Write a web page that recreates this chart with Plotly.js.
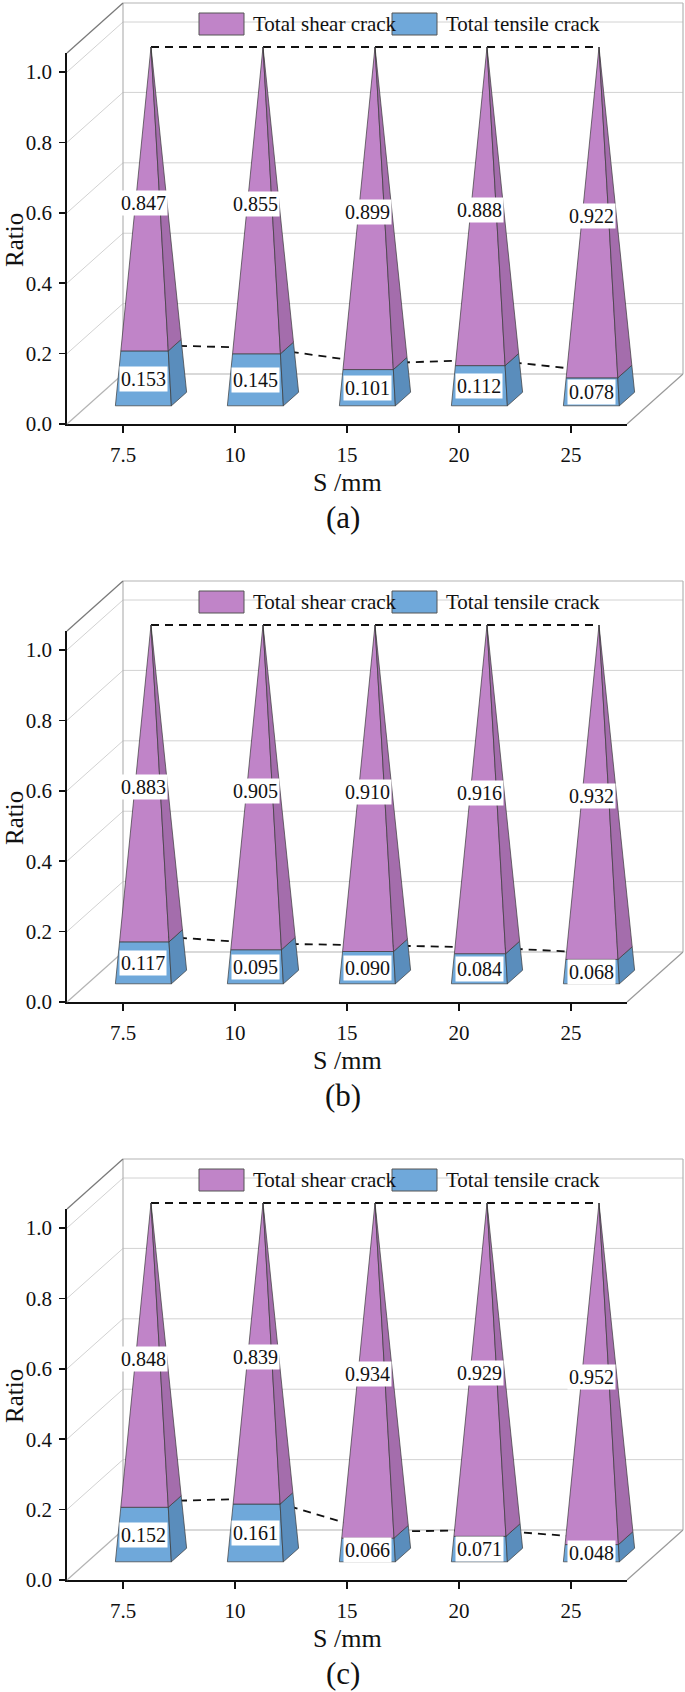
<!DOCTYPE html>
<html>
<head>
<meta charset="utf-8">
<script src="https://cdn.plot.ly/plotly-3.0.1.min.js"></script>
<style>
  html, body { margin: 0; padding: 0; background: #fff; }
  .panel { width: 685px; display: block; }
</style>
</head>
<body>
<div id="panelA" class="panel" style="height:578px"></div>
<div id="panelB" class="panel" style="height:578px"></div>
<div id="panelC" class="panel" style="height:536px"></div>
<script>
var spacing = ['7.5', '10', '15', '20', '25'];
var yTicks = [0, 0.2, 0.4, 0.6, 0.8, 1.0];
var yTickText = ['0.0', '0.2', '0.4', '0.6', '0.8', '1.0'];

var shearA = [0.847, 0.855, 0.899, 0.888, 0.922];
var tensileA = [0.153, 0.145, 0.101, 0.112, 0.078];
var shearB = [0.883, 0.905, 0.910, 0.916, 0.932];
var tensileB = [0.117, 0.095, 0.090, 0.084, 0.068];
var shearC = [0.848, 0.839, 0.934, 0.929, 0.952];
var tensileC = [0.152, 0.161, 0.066, 0.071, 0.048];

var panels = [
    {div: 'panelA', h: 578, shear: shearA, tensile: tensileA, tag: '(a)'},
    {div: 'panelB', h: 578, shear: shearB, tensile: tensileB, tag: '(b)'},
    {div: 'panelC', h: 536, shear: shearC, tensile: tensileC, tag: '(c)'}
];

// projection settings (px inside one panel)
var W = 685;
var X0 = 123, XU = 112;      // px of first category, px per category
var Y0 = 424, YU = 352;      // px of ratio 0, px per 1.0
var DX = 0.5, DY = 0.142;    // depth vector, in axis units
var TOP = (Y0 - 53) / YU;    // top of walls
var W0 = 0.25, E0 = 0.136;   // pyramid half width / half depth at base
var DC = 0.5;                // pyramid centre depth

var FONT = 'Liberation Serif, Times New Roman, serif';
var BLUE = '#6FA8DA', BLUE_SIDE = '#5A8DBC';
var PURPLE = '#C084C8', PURPLE_SIDE = '#A46DAC';
var EDGE = '#3a3a3a';

function toX(px) { return (px - X0) / XU; }
function toY(py) { return (Y0 - py) / YU; }

function pt(i, h, side, dsign) {
    var w = W0 * (1 - h), e = E0 * (1 - h);
    var d = DC + dsign * e;
    return [i + side * w + d * DX, h + d * DY];
}

function face(pts, color) {
    var xs = [], ys = [];
    for (var k = 0; k < pts.length; k++) {
        xs.push(pts[k][0]);
        ys.push(pts[k][1]);
    }
    xs.push(pts[0][0]);
    ys.push(pts[0][1]);
    return {
        x: xs, y: ys, xaxis: 'x2', yaxis: 'y2',
        type: 'scatter', mode: 'lines', fill: 'toself',
        fillcolor: color,
        line: {color: EDGE, width: 0.7},
        hoverinfo: 'skip', showlegend: false
    };
}

function seg(x0, y0, x1, y1, color, width) {
    return {
        type: 'line', xref: 'x2', yref: 'y2',
        x0: x0, y0: y0, x1: x1, y1: y1,
        line: {color: color, width: width}, layer: 'below'
    };
}

function drawPanel(panel) {
    var hp = panel.h;
    var shear = panel.shear, tensile = panel.tensile;
    var data = [];
    var shapes = [];
    var annotations = [];

    // empty trace so the front axes get drawn
    data.push({x: [0], y: [0], xaxis: 'x', yaxis: 'y', type: 'scatter', mode: 'markers',
        marker: {opacity: 0}, hoverinfo: 'skip', showlegend: false});

    // walls: back wall grid and left wall diagonals
    for (var g = 1; g < yTicks.length; g++) {
        var r = yTicks[g];
        shapes.push(seg(0, r + DY, 5, r + DY, '#d2d2d2', 1));
        shapes.push(seg(-0.5, r, 0, r + DY, '#d2d2d2', 1));
    }
    shapes.push(seg(0, DY, 0, TOP + DY, '#b4b4b4', 1.2));
    shapes.push(seg(0, TOP + DY, 5, TOP + DY, '#b4b4b4', 1.2));
    shapes.push(seg(5, DY, 5, TOP + DY, '#b4b4b4', 1.2));
    shapes.push(seg(0, DY, 5, DY, '#b4b4b4', 1.2));
    shapes.push(seg(-0.5, 0, 0, DY, '#b4b4b4', 1.2));
    shapes.push(seg(4.5, 0, 5, DY, '#9a9a9a', 1.2));
    shapes.push(seg(-0.5, TOP, 0, TOP + DY, '#7a7a7a', 1.3));

    // dashed lines behind the pyramids
    var topX = [], topY = [], midX = [], midY = [];
    for (var i = 0; i < shear.length; i++) {
        topX.push(i + DC * DX);
        topY.push(tensile[i] + shear[i] + DC * DY);
        midX.push(i + DC * DX);
        midY.push(tensile[i] + DC * DY);
    }
    data.push({x: topX, y: topY, xaxis: 'x2', yaxis: 'y2', type: 'scatter', mode: 'lines',
        line: {color: '#111', width: 1.8, dash: '8px,6px'}, hoverinfo: 'skip', showlegend: false});
    data.push({x: midX, y: midY, xaxis: 'x2', yaxis: 'y2', type: 'scatter', mode: 'lines',
        line: {color: '#111', width: 1.8, dash: '8px,6px'}, hoverinfo: 'skip', showlegend: false});

    // pyramids
    for (var i = 0; i < shear.length; i++) {
        var t = tensile[i];
        var apexH = t + shear[i];
        var apex = [i + DC * DX, apexH + DC * DY];
        data.push(face([pt(i, 0, -1, -1), pt(i, 0, 1, -1), pt(i, t, 1, -1), pt(i, t, -1, -1)], BLUE));
        data.push(face([pt(i, 0, 1, -1), pt(i, 0, 1, 1), pt(i, t, 1, 1), pt(i, t, 1, -1)], BLUE_SIDE));
        data.push(face([pt(i, t, -1, -1), pt(i, t, 1, -1), apex], PURPLE));
        data.push(face([pt(i, t, 1, -1), pt(i, t, 1, 1), apex], PURPLE_SIDE));

        var dFront = DC - E0;
        annotations.push({
            xref: 'x2', yref: 'y2', x: i + dFront * DX, y: t + shear[i] / 2 + dFront * DY,
            text: shear[i].toFixed(3), showarrow: false,
            bgcolor: '#fff', borderpad: 1,
            font: {family: FONT, size: 20, color: '#111'}
        });
        annotations.push({
            xref: 'x2', yref: 'y2', x: i + dFront * DX, y: t / 2 + dFront * DY,
            text: tensile[i].toFixed(3), showarrow: false,
            bgcolor: '#fff', borderpad: 1,
            font: {family: FONT, size: 20, color: '#111'}
        });
    }

    // legend
    shapes.push({type: 'rect', xref: 'x2', yref: 'y2', x0: toX(199), x1: toX(244), y0: toY(35), y1: toY(13),
        fillcolor: PURPLE, line: {color: '#555', width: 1}, layer: 'above'});
    shapes.push({type: 'rect', xref: 'x2', yref: 'y2', x0: toX(392), x1: toX(437), y0: toY(35), y1: toY(13),
        fillcolor: BLUE, line: {color: '#555', width: 1}, layer: 'above'});
    annotations.push({xref: 'x2', yref: 'y2', x: toX(251), y: toY(24), xanchor: 'left', text: 'Total shear crack',
        showarrow: false, font: {family: FONT, size: 21, color: '#111'}});
    annotations.push({xref: 'x2', yref: 'y2', x: toX(444), y: toY(24), xanchor: 'left', text: 'Total tensile crack',
        showarrow: false, font: {family: FONT, size: 21, color: '#111'}});

    // titles
    annotations.push({xref: 'x2', yref: 'y2', x: toX(14), y: toY(240), text: 'Ratio', textangle: -90,
        showarrow: false, font: {family: FONT, size: 25, color: '#111'}});
    annotations.push({xref: 'x2', yref: 'y2', x: toX(347), y: toY(482), text: 'S /mm',
        showarrow: false, font: {family: FONT, size: 26, color: '#111'}});
    annotations.push({xref: 'x2', yref: 'y2', x: toX(343), y: toY(517), text: panel.tag,
        showarrow: false, font: {family: FONT, size: 31, color: '#111'}});

    var layout = {
        width: W, height: hp,
        margin: {l: 0, r: 0, t: 0, b: 0},
        paper_bgcolor: '#fff',
        plot_bgcolor: 'rgba(0,0,0,0)',
        showlegend: false,
        font: {family: FONT, color: '#111'},
        // front plane: the visible axes
        xaxis: {
            domain: [(X0 - 0.5 * XU) / W, (X0 + 4.5 * XU) / W],
            range: [-0.5, 4.5],
            anchor: 'y',
            tickmode: 'array', tickvals: [0, 1, 2, 3, 4], ticktext: spacing,
            ticks: 'outside', ticklen: 7, tickwidth: 1.5, tickcolor: '#111',
            ticklabelstandoff: 4,
            tickfont: {family: FONT, size: 21, color: '#111'},
            showline: true, linecolor: '#111', linewidth: 1.8, mirror: false,
            showgrid: false, zeroline: false, fixedrange: true
        },
        yaxis: {
            domain: [1 - Y0 / hp, 1 - (Y0 - TOP * YU) / hp],
            range: [0, TOP],
            anchor: 'x',
            tickmode: 'array', tickvals: yTicks, ticktext: yTickText,
            ticks: 'outside', ticklen: 6, tickwidth: 1.5, tickcolor: '#111',
            ticklabelstandoff: 3,
            tickfont: {family: FONT, size: 21, color: '#111'},
            showline: true, linecolor: '#111', linewidth: 1.8, mirror: false,
            showgrid: false, zeroline: false, fixedrange: true
        },
        // whole panel, same scale, used for the 3D drawing
        xaxis2: {
            domain: [0, 1], range: [toX(0), toX(W)], anchor: 'y2',
            visible: false, fixedrange: true
        },
        yaxis2: {
            domain: [0, 1], range: [toY(hp), toY(0)], anchor: 'x2',
            visible: false, fixedrange: true
        },
        shapes: shapes,
        annotations: annotations
    };

    Plotly.newPlot(panel.div, data, layout, {staticPlot: true});
}

for (var p = 0; p < panels.length; p++) {
    drawPanel(panels[p]);
}
</script>
</body>
</html>
